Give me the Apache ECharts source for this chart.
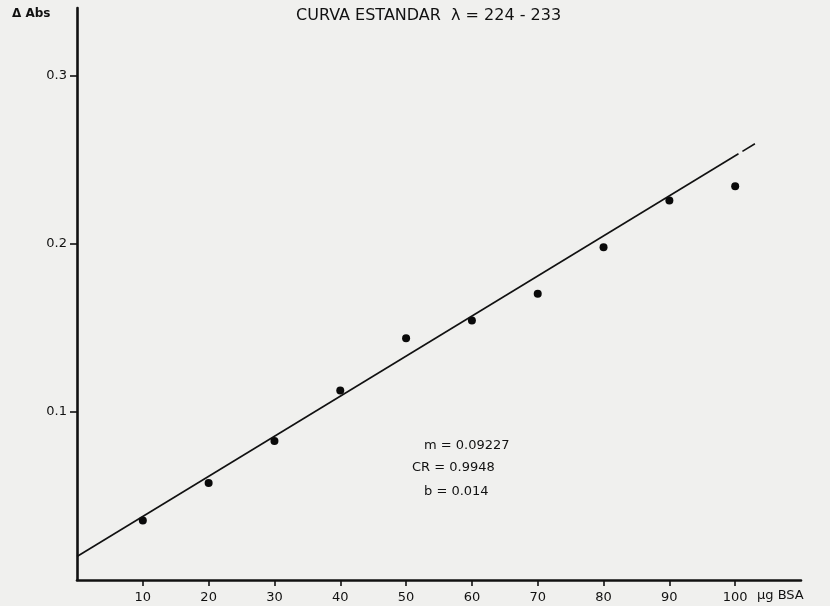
<!DOCTYPE html>
<html>
<head>
<meta charset="utf-8">
<script src="https://cdn.jsdelivr.net/npm/echarts@6/dist/echarts.min.js"></script>
<style>
  html, body { margin: 0; padding: 0; background: #f0f0ee; }
  #chart { width: 830px; height: 606px; }
</style>
</head>
<body>
<div id="chart"></div>
<script>
// Standard curve: absorbance change vs. micrograms of BSA
const bsaMicrograms = [10, 20, 30, 40, 50, 60, 70, 80, 90, 100];
const deltaAbs = [0.0353, 0.0576, 0.0826, 0.1127, 0.1437, 0.1543, 0.1702, 0.1978, 0.2256, 0.2341];

// Fitted line, drawn in two pieces (small pen break near the upper end)
const fitLineLower = [[0, 0.014], [100.5, 0.2534]];
const fitLineUpper = [[101.1, 0.2548], [103, 0.2593]];

const xTickValues = [10, 20, 30, 40, 50, 60, 70, 80, 90, 100];
const yTickValues = [0.1, 0.2, 0.3];

const titleText = 'CURVA ESTANDAR  \u03bb = 224 - 233';
const fitStats = ['m = 0.09227', 'CR = 0.9948', 'b = 0.014'];

const ink = '#111111';
const font = 'DejaVu Sans';

const chart = echarts.init(document.getElementById('chart'));
chart.setOption({
  backgroundColor: '#f0f0ee',
  animation: false,
  grid: { left: 77, right: 29, top: 8, bottom: 26 },
  xAxis: {
    type: 'value',
    min: 0,
    max: 110,
    interval: 10,
    axisLine: { show: true, onZero: false, lineStyle: { color: ink, width: 2.6 } },
    axisTick: { show: true, customValues: xTickValues, length: 6, lineStyle: { color: ink, width: 1.6 } },
    axisLabel: { customValues: xTickValues, margin: 11, fontSize: 13, fontFamily: font, color: ink },
    splitLine: { show: false }
  },
  yAxis: {
    type: 'value',
    min: 0,
    max: 0.34,
    interval: 0.1,
    axisLine: { show: true, onZero: false, lineStyle: { color: ink, width: 2.6 } },
    axisTick: { show: true, customValues: yTickValues, length: 7, lineStyle: { color: ink, width: 1.6 } },
    axisLabel: {
      customValues: yTickValues, margin: 10, fontSize: 13, fontFamily: font, color: ink,
      formatter: v => v.toFixed(1)
    },
    splitLine: { show: false }
  },
  graphic: [
    { type: 'text', left: 296, top: 8,
      style: { text: titleText, font: '16px "DejaVu Sans"', fill: ink } },
    { type: 'text', left: 12, top: 8,
      style: { text: '\u0394 Abs', font: 'bold 12px "DejaVu Sans"', fill: ink } },
    { type: 'text', left: 757, top: 589,
      style: { text: '\u03bcg BSA', font: '13px "DejaVu Sans"', fill: ink } },
    { type: 'text', left: 424, top: 439,
      style: { text: fitStats[0], font: '13px "DejaVu Sans"', fill: ink } },
    { type: 'text', left: 412, top: 461,
      style: { text: fitStats[1], font: '13px "DejaVu Sans"', fill: ink } },
    { type: 'text', left: 424, top: 485,
      style: { text: fitStats[2], font: '13px "DejaVu Sans"', fill: ink } }
  ],
  series: [
    {
      type: 'line', data: fitLineLower, symbol: 'none',
      lineStyle: { color: ink, width: 1.6 }, silent: true
    },
    {
      type: 'line', data: fitLineUpper, symbol: 'none',
      lineStyle: { color: ink, width: 1.6 }, silent: true
    },
    {
      type: 'scatter',
      data: bsaMicrograms.map((x, i) => [x, deltaAbs[i]]),
      symbol: 'circle', symbolSize: 8,
      itemStyle: { color: '#0a0a0a', opacity: 1 }
    }
  ]
});
</script>
</body>
</html>
